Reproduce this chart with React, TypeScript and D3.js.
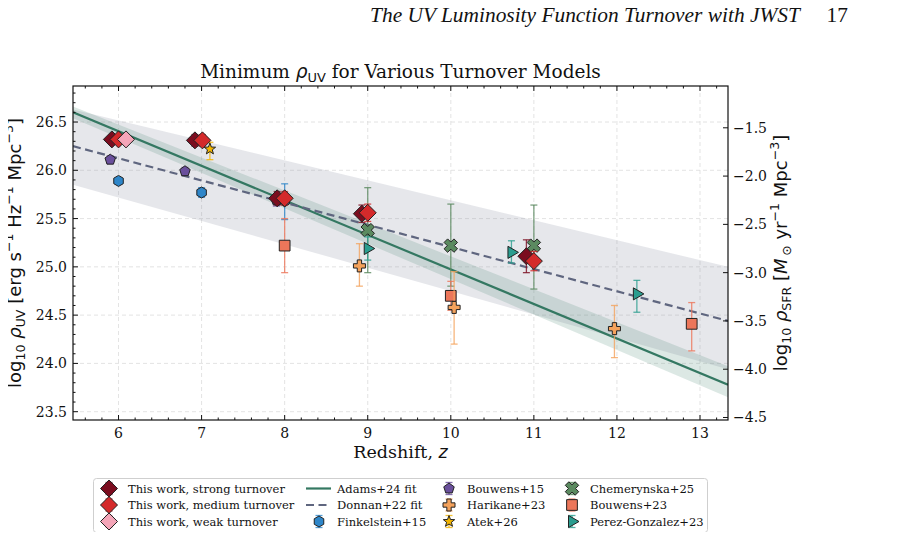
import { useEffect, useRef } from "react";
import * as d3 from "d3";

// plot frame (px)
const frame = { left: 73, right: 728, top: 86, bottom: 420 };
const zRange = [5.452, 13.337];
const rhoRange = [23.414, 26.873];
// log10 of the UV -> SFR conversion factor (1.15e-28)
const logKappa = -27.94;

const zTicks = [6, 7, 8, 9, 10, 11, 12, 13];
const rhoTicks = [23.5, 24.0, 24.5, 25.0, 25.5, 26.0, 26.5];
const sfrTicks = [-4.5, -4.0, -3.5, -3.0, -2.5, -2.0, -1.5];

// fit lines, evaluated at the plot edges
const fitZ = [5.452, 13.337];
const adamsFit = [26.6, 23.78];
const adamsUpper = [26.66, 23.97];
const adamsLower = [26.54, 23.65];
const donnanFit = [26.25, 24.44];
const donnanUpper = [26.63, 25.0];
const donnanLower = [25.85, 23.94];

// this work
const strongZ = [5.92, 6.92, 7.91, 8.93, 10.91];
const strongRho = [26.32, 26.31, 25.71, 25.55, 25.11];
const strongErr = [0.03, 0.06, 0.07, 0.09, 0.17];
const mediumZ = [6.0, 7.01, 8.0, 9.0, 11.0];
const mediumRho = [26.32, 26.31, 25.71, 25.56, 25.06];
const mediumErr = [0.03, 0.06, 0.07, 0.09, 0.1];
const weakZ = [6.09];
const weakRho = [26.32];
const weakErr = [0.03];

// literature
const finkZ = [6, 7, 8];
const finkRho = [25.89, 25.77, 25.68];
const finkLo = [0.03, 0.05, 0.19];
const finkHi = [0.03, 0.05, 0.18];

const bouw15Z = [5.9, 6.8, 7.9];
const bouw15Rho = [26.11, 25.99, 25.69];
const bouw15Err = [0.04, 0.04, 0.06];

const harikaneZ = [8.9, 10.04, 11.97];
const harikaneRho = [25.01, 24.58, 24.36];
const harikaneLo = [0.21, 0.38, 0.3];
const harikaneHi = [0.23, 0.37, 0.24];

const atekZ = [7.1];
const atekRho = [26.22];
const atekLo = [0.11];
const atekHi = [0.07];

const chemZ = [9, 10, 11];
const chemRho = [25.38, 25.22, 25.22];
const chemLo = [0.44, 0.42, 0.45];
const chemHi = [0.44, 0.43, 0.42];

const bouw23Z = [8, 10, 12.9];
const bouw23Rho = [25.22, 24.7, 24.41];
const bouw23Lo = [0.28, 0.15, 0.28];
const bouw23Hi = [0.28, 0.15, 0.22];

const perezZ = [9.0, 10.73, 12.24];
const perezRho = [25.19, 25.15, 24.72];
const perezLo = [0.12, 0.11, 0.19];
const perezHi = [0.12, 0.12, 0.14];

const SERIF = "'DejaVu Serif', serif";
const SANS = "'DejaVu Sans', sans-serif";

const poly = (pts) => "M" + pts.map((p) => p[0].toFixed(2) + "," + p[1].toFixed(2)).join("L") + "Z";
const regular = (n, r, rot = 0) =>
  d3.range(n).map((i) => {
    const a = rot + (i * 2 * Math.PI) / n;
    return [r * Math.sin(a), -r * Math.cos(a)];
  });

function shapePath(kind, r) {
  if (kind === "D") return poly(regular(4, r));
  if (kind === "h") return poly(regular(6, r));
  if (kind === "p") return poly(regular(5, r));
  if (kind === "s") return poly(regular(4, r, Math.PI / 4));
  if (kind === ">") return poly(regular(3, r, Math.PI / 2));
  if (kind === "*") {
    const pts = d3.range(10).map((i) => {
      const a = (i * Math.PI) / 5;
      const rr = i % 2 === 0 ? r : r * 0.42;
      return [rr * Math.sin(a), -rr * Math.cos(a)];
    });
    return poly(pts);
  }
  // filled plus / x
  const w = r * 0.36;
  let pts = [
    [-w, -r], [w, -r], [w, -w], [r, -w], [r, w], [w, w],
    [w, r], [-w, r], [-w, w], [-r, w], [-r, -w], [-w, -w],
  ];
  if (kind === "X") {
    const c = Math.SQRT1_2;
    pts = pts.map(([x, y]) => [(x - y) * c, (x + y) * c]);
  }
  return poly(pts);
}

const series = [
  { label: "Finkelstein+15", z: finkZ, v: finkRho, lo: finkLo, hi: finkHi, color: "#2e86c9", marker: "h", r: 5.5 },
  { label: "Bouwens+15", z: bouw15Z, v: bouw15Rho, lo: bouw15Err, hi: bouw15Err, color: "#6a4f9c", marker: "p", r: 5.5 },
  { label: "Chemerynska+25", z: chemZ, v: chemRho, lo: chemLo, hi: chemHi, color: "#5b8a60", marker: "X", r: 7 },
  { label: "Bouwens+23", z: bouw23Z, v: bouw23Rho, lo: bouw23Lo, hi: bouw23Hi, color: "#ec765a", marker: "s", r: 7.6 },
  { label: "Harikane+23", z: harikaneZ, v: harikaneRho, lo: harikaneLo, hi: harikaneHi, color: "#f4a25c", marker: "P", r: 6 },
  { label: "Atek+26", z: atekZ, v: atekRho, lo: atekLo, hi: atekHi, color: "#f2b400", marker: "*", r: 6 },
  { label: "Perez-Gonzalez+23", z: perezZ, v: perezRho, lo: perezLo, hi: perezHi, color: "#2a9d8f", marker: ">", r: 7 },
  { label: "This work, strong turnover", z: strongZ, v: strongRho, lo: strongErr, hi: strongErr, color: "#7b0d1f", marker: "D", r: 8.5 },
  { label: "This work, medium turnover", z: mediumZ, v: mediumRho, lo: mediumErr, hi: mediumErr, color: "#d42a2b", marker: "D", r: 8.5 },
  { label: "This work, weak turnover", z: weakZ, v: weakRho, lo: weakErr, hi: weakErr, color: "#f4a5b8", marker: "D", r: 8.5 },
];

const byLabel = (l) => series.find((s) => s.label === l);

const legendCols = [
  { mx: 109, tx: 128, items: ["This work, strong turnover", "This work, medium turnover", "This work, weak turnover"] },
  { mx: 319, tx: 337, items: ["Adams+24 fit", "Donnan+22 fit", "Finkelstein+15"] },
  { mx: 449, tx: 467, items: ["Bouwens+15", "Harikane+23", "Atek+26"] },
  { mx: 572, tx: 590, items: ["Chemerynska+25", "Bouwens+23", "Perez-Gonzalez+23"] },
];

function mathText(sel, parts, size) {
  let shift = 0;
  parts.forEach(([txt, kind, fam]) => {
    const target = kind === "sub" ? size * 0.22 : kind === "sup" ? -size * 0.42 : 0;
    const ts = sel.append("tspan").text(txt).attr("dy", target - shift);
    shift = target;
    if (kind === "sub" || kind === "sup") ts.attr("font-size", size * 0.7);
    if (kind === "it") ts.attr("font-style", "italic");
    if (fam) ts.attr("font-family", fam);
  });
}

const App = () => {
  const ref = useRef(null);

  useEffect(() => {
    const svg = d3.select(ref.current);
    svg.selectAll("*").remove();

    const x = d3.scaleLinear().domain(zRange).range([frame.left, frame.right]);
    const y = d3.scaleLinear().domain(rhoRange).range([frame.bottom, frame.top]);
    const ySfr = d3
      .scaleLinear()
      .domain(rhoRange.map((d) => d + logKappa))
      .range([frame.bottom, frame.top]);

    // header
    const head = svg.append("text").attr("x", 848).attr("y", 22).attr("text-anchor", "end")
      .attr("font-family", "'Liberation Serif', serif").attr("font-size", 21.4).attr("fill", "#111")
      .style("white-space", "pre");
    head.append("tspan").attr("font-style", "italic").text("The UV Luminosity Function Turnover with JWST");
    head.append("tspan").text("     17");

    const defs = svg.append("defs");
    defs.append("clipPath").attr("id", "plotclip").append("rect")
      .attr("x", frame.left).attr("y", frame.top)
      .attr("width", frame.right - frame.left).attr("height", frame.bottom - frame.top);

    // grid
    const grid = svg.append("g").attr("stroke", "#dcdcdc").attr("stroke-width", 0.8).attr("stroke-dasharray", "4,3");
    zTicks.forEach((t) => grid.append("line").attr("x1", x(t)).attr("x2", x(t)).attr("y1", frame.top).attr("y2", frame.bottom));
    rhoTicks.forEach((t) => grid.append("line").attr("y1", y(t)).attr("y2", y(t)).attr("x1", frame.left).attr("x2", frame.right));

    const plot = svg.append("g").attr("clip-path", "url(#plotclip)");

    const band = (upper, lower) =>
      d3.area().x((d, i) => x(fitZ[i])).y0((d, i) => y(lower[i])).y1((d) => y(d))(upper);
    plot.append("path").attr("d", band(donnanUpper, donnanLower)).attr("fill", "#8b90a4").attr("fill-opacity", 0.22);
    plot.append("path").attr("d", band(adamsUpper, adamsLower)).attr("fill", "#4f8a78").attr("fill-opacity", 0.2);

    const line = d3.line().x((d, i) => x(fitZ[i])).y((d) => y(d));
    plot.append("path").attr("d", line(adamsFit)).attr("fill", "none").attr("stroke", "#347862").attr("stroke-width", 2.2);
    plot.append("path").attr("d", line(donnanFit)).attr("fill", "none").attr("stroke", "#5f667f")
      .attr("stroke-width", 2.2).attr("stroke-dasharray", "8,4.5");

    // data points with error bars
    series.forEach((s) => {
      const g = plot.append("g");
      s.z.forEach((z, i) => {
        const cx = x(z);
        const yTop = y(s.v[i] + s.hi[i]);
        const yBot = y(s.v[i] - s.lo[i]);
        const eb = g.append("g").attr("stroke", s.color).attr("stroke-width", 1.3).attr("stroke-opacity", 0.8);
        eb.append("line").attr("x1", cx).attr("x2", cx).attr("y1", yTop).attr("y2", yBot);
        eb.append("line").attr("x1", cx - 3.5).attr("x2", cx + 3.5).attr("y1", yTop).attr("y2", yTop);
        eb.append("line").attr("x1", cx - 3.5).attr("x2", cx + 3.5).attr("y1", yBot).attr("y2", yBot);
      });
      g.selectAll("path.mk").data(s.z).enter().append("path").attr("class", "mk")
        .attr("d", shapePath(s.marker, s.r))
        .attr("transform", (z, i) => `translate(${x(z)},${y(s.v[i])})`)
        .attr("fill", s.color).attr("stroke", "#222").attr("stroke-width", 1);
    });

    // axes frame
    svg.append("rect").attr("x", frame.left).attr("y", frame.top)
      .attr("width", frame.right - frame.left).attr("height", frame.bottom - frame.top)
      .attr("fill", "none").attr("stroke", "#111").attr("stroke-width", 1.2);

    const ticks = svg.append("g").attr("stroke", "#111").attr("stroke-width", 1);
    const zMinor = d3.range(5.6, 13.34, 0.2).filter((t) => Math.abs(t - Math.round(t)) > 0.01);
    zTicks.forEach((t) => {
      ticks.append("line").attr("x1", x(t)).attr("x2", x(t)).attr("y1", frame.bottom).attr("y2", frame.bottom - 5);
      ticks.append("line").attr("x1", x(t)).attr("x2", x(t)).attr("y1", frame.top).attr("y2", frame.top + 5);
    });
    zMinor.forEach((t) => {
      ticks.append("line").attr("x1", x(t)).attr("x2", x(t)).attr("y1", frame.bottom).attr("y2", frame.bottom - 2.5);
      ticks.append("line").attr("x1", x(t)).attr("x2", x(t)).attr("y1", frame.top).attr("y2", frame.top + 2.5);
    });
    const rhoMinor = d3.range(23.5, 26.87, 0.1).filter((t) => Math.abs(t * 2 - Math.round(t * 2)) > 0.01);
    rhoTicks.forEach((t) => ticks.append("line").attr("x1", frame.left).attr("x2", frame.left + 5).attr("y1", y(t)).attr("y2", y(t)));
    rhoMinor.forEach((t) => ticks.append("line").attr("x1", frame.left).attr("x2", frame.left + 2.5).attr("y1", y(t)).attr("y2", y(t)));
    sfrTicks.forEach((t) => ticks.append("line").attr("x1", frame.right).attr("x2", frame.right - 5).attr("y1", ySfr(t)).attr("y2", ySfr(t)));

    const fmt = d3.format(".1f");
    const minus = (s) => s.replace("-", "\u2212");
    const labels = svg.append("g").attr("font-family", SERIF).attr("font-size", 14).attr("fill", "#111");
    zTicks.forEach((t) => labels.append("text").attr("x", x(t)).attr("y", frame.bottom + 18).attr("text-anchor", "middle").text(t));
    rhoTicks.forEach((t) => labels.append("text").attr("x", frame.left - 6).attr("y", y(t) + 5).attr("text-anchor", "end").text(fmt(t)));
    sfrTicks.forEach((t) => labels.append("text").attr("x", frame.right + 5).attr("y", ySfr(t) + 5).text(minus(fmt(t))));

    // axis titles
    const xl = svg.append("text").attr("x", (frame.left + frame.right) / 2).attr("y", frame.bottom + 38)
      .attr("text-anchor", "middle").attr("font-family", SERIF).attr("font-size", 17.5).attr("fill", "#111")
      .style("white-space", "pre");
    mathText(xl, [["Redshift, ", "rm"], ["z", "it", SANS]], 17.5);

    const cy = (frame.top + frame.bottom) / 2;
    const yl = svg.append("text").attr("transform", `translate(21,${cy}) rotate(-90)`).attr("text-anchor", "middle")
      .attr("font-family", SANS).attr("font-size", 18).attr("fill", "#111").style("white-space", "pre");
    mathText(yl, [["log", "rm"], ["10", "sub"], [" ", "rm"], ["\u03c1", "it"], ["UV", "sub"], [" [erg s", "rm"], ["\u22121", "sup"],
      [" Hz", "rm"], ["\u22121", "sup"], [" Mpc", "rm"], ["\u22123", "sup"], ["]", "rm"]], 18);

    const yr = svg.append("text").attr("transform", `translate(787,${cy}) rotate(-90)`).attr("text-anchor", "middle")
      .attr("font-family", SANS).attr("font-size", 18).attr("fill", "#111").style("white-space", "pre");
    mathText(yr, [["log", "rm"], ["10", "sub"], [" ", "rm"], ["\u03c1", "it"], ["SFR", "sub"], [" [", "rm"], ["M", "it"],
      ["\u2009\u2299", "sub"], [" yr", "rm"], ["\u22121", "sup"], [" Mpc", "rm"], ["\u22123", "sup"], ["]", "rm"]], 18);

    const title = svg.append("text").attr("x", (frame.left + frame.right) / 2).attr("y", frame.top - 8)
      .attr("text-anchor", "middle").attr("font-family", SERIF).attr("font-size", 18.5).attr("fill", "#111")
      .style("white-space", "pre");
    mathText(title, [["Minimum ", "rm"], ["\u03c1", "it", SANS], ["UV", "sub", SANS], [" for Various Turnover Models", "rm"]], 18.5);

    // legend
    const lg = svg.append("g");
    lg.append("rect").attr("x", 93.5).attr("y", 478.5).attr("width", 614).attr("height", 54).attr("rx", 3)
      .attr("fill", "#fff").attr("stroke", "#cfcfcf").attr("stroke-width", 1);
    const rowY = [488.5, 505, 521.5];
    legendCols.forEach((col) => {
      col.items.forEach((label, j) => {
        const yy = rowY[j];
        if (label === "Adams+24 fit") {
          lg.append("line").attr("x1", col.mx - 13).attr("x2", col.mx + 12).attr("y1", yy).attr("y2", yy)
            .attr("stroke", "#347862").attr("stroke-width", 2.2);
        } else if (label === "Donnan+22 fit") {
          lg.append("line").attr("x1", col.mx - 13).attr("x2", col.mx + 12).attr("y1", yy).attr("y2", yy)
            .attr("stroke", "#5f667f").attr("stroke-width", 2.2).attr("stroke-dasharray", "8,4.5");
        } else {
          const s = byLabel(label);
          const eb = lg.append("g").attr("stroke", s.color).attr("stroke-width", 1.3).attr("stroke-opacity", 0.8);
          eb.append("line").attr("x1", col.mx).attr("x2", col.mx).attr("y1", yy - 6).attr("y2", yy + 6);
          eb.append("line").attr("x1", col.mx - 3.5).attr("x2", col.mx + 3.5).attr("y1", yy - 6).attr("y2", yy - 6);
          eb.append("line").attr("x1", col.mx - 3.5).attr("x2", col.mx + 3.5).attr("y1", yy + 6).attr("y2", yy + 6);
          lg.append("path").attr("d", shapePath(s.marker, s.r)).attr("transform", `translate(${col.mx},${yy})`)
            .attr("fill", s.color).attr("stroke", "#222").attr("stroke-width", 1);
        }
        lg.append("text").attr("x", col.tx).attr("y", yy + 4).attr("font-family", SERIF).attr("font-size", 11.5)
          .attr("fill", "#111").text(label);
      });
    });
  }, []);

  return <svg ref={ref} width={914} height={540} style={{ display: "block", margin: "-8px" }} />;
};

export default App;
